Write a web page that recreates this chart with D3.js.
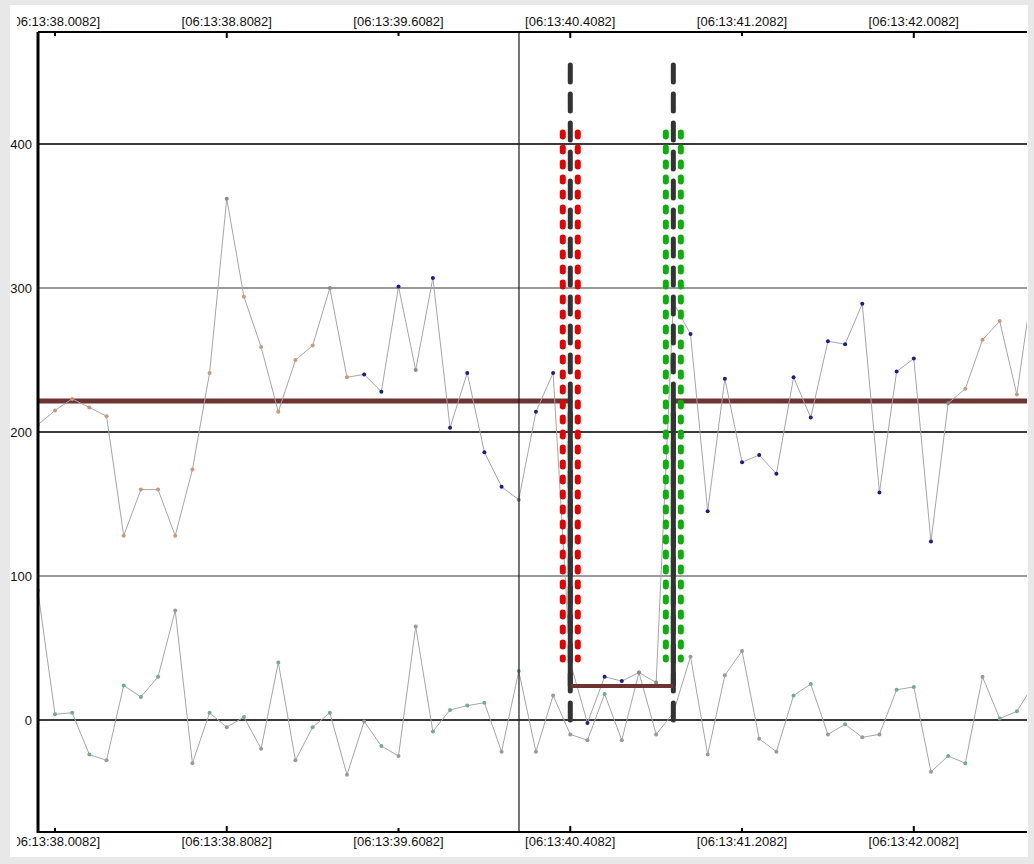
<!DOCTYPE html>
<html><head><meta charset="utf-8">
<script src="https://cdn.jsdelivr.net/npm/d3@7"></script>
<style>
html,body{margin:0;padding:0;background:#e8e8e8;}
svg{display:block;}
text{font-family:"Liberation Sans",Arial,sans-serif;font-size:13px;fill:#111;}
</style></head>
<body>
<script>
// ---- data ----
const sampleStart = 37.9282;   // seconds after 06:13:00
const sampleStep = 0.08;
const upperValues = [205,215,223,217,211,128,160,160,128,174,241,362,294,259,214,250,260,300,238,240,228,301,243,307,203,241,186,162,153,214,241,
  40,-2,30,27,33,26,290,
  268,145,237,179,184,171,238,210,263,261,289,158,242,251,124,220,230,264,277,226,310];
const upperState = ['o','o','o','o','o','o','o','o','o','o','o','g','o','o','o','o','o','g','o','b','b','b','g','b','b','b','b','b','g','b','b',
  'g','b','b','b','g','g','g',
  'b','b','b','b','b','b','b','b','b','b','b','b','b','b','b','g','o','o','o','o','o'];
const lowerValues = [90,4,5,-24,-28,24,16,30,76,-30,5,-5,2,-20,40,-28,-5,5,-38,-1,-18,-25,65,-8,7,10,12,-22,34,-22,17,
  -10,-14,18,-14,33,-10,5,
  44,-24,31,48,-13,-22,17,25,-10,-3,-12,-10,21,23,-36,-25,-30,30,1,6,25];
const lowerState = ['n','g','g','g','n','g','g','g','n','n','g','n','g','n','g','n','g','g','n','n','g','n','n','g','g','g','g','n','g','n','n',
  'n','n','g','n','n','n','n',
  'n','n','n','n','n','n','g','g','n','g','n','n','g','g','n','g','g','n','g','g','n'];
const yTicks = [0,100,200,300,400];
const xTickTimes = [38.0082,38.8082,39.6082,40.4082,41.2082,42.0082];
const xTickMajor = [false,true,false,true,false,true];
const meanBefore = 221.5, meanGap = 23.6, meanAfter = 221.5;
const gapStart = 40.4082, gapEnd = 40.8882;
const cursorTime = 40.1693;
const markerTop = 457, markerBottom = -1, zoneTop = 410, zoneBottom = 42;

// ---- layout ----
const W = 1034, H = 864;
const plot = {l:38, r:1027, t:32, b:832};
const svg = d3.select("body").append("svg").attr("width",W).attr("height",H);
svg.append("rect").attr("x",10).attr("y",5).attr("width",1018).attr("height",852).attr("fill","#ffffff");

const x = d3.scaleLinear().domain([38.0082 - 17/214.7, 38.0082 + 972/214.7]).range([plot.l, plot.r]);
const y = d3.scaleLinear().domain([(720-832)/1.44, (720-32)/1.44]).range([plot.b, plot.t]);

const defs = svg.append("defs");
defs.append("clipPath").attr("id","pc").append("rect").attr("x",plot.l).attr("y",plot.t).attr("width",plot.r-plot.l).attr("height",plot.b-plot.t);
defs.append("clipPath").attr("id","lc").append("rect").attr("x",17).attr("y",0).attr("width",1011).attr("height",H);

// grid
const g = svg.append("g");
g.selectAll("line.grid").data(yTicks).join("line")
  .attr("x1",plot.l).attr("x2",plot.r).attr("y1",d=>y(d)).attr("y2",d=>y(d))
  .attr("stroke",d=>(d/100)%2===0?"#3a3a3a":"#9a9a9a").attr("stroke-width",2);

// y axis labels
const yAxis = d3.axisLeft(y).tickValues(yTicks).tickSize(0).tickPadding(5).tickFormat(d3.format("d"));
svg.append("g").attr("transform",`translate(${plot.l-1},0)`).call(yAxis)
  .call(s=>s.select(".domain").remove())
  .call(s=>s.selectAll("text").attr("font-size",13).attr("font-family","Liberation Sans, Arial, sans-serif").attr("fill","#111"));

// mean lines (brown)
const pc = svg.append("g").attr("clip-path","url(#pc)");
pc.append("line").attr("x1",plot.l).attr("x2",x(gapStart)).attr("y1",y(meanBefore)).attr("y2",y(meanBefore))
  .attr("stroke","#6e3333").attr("stroke-width",5);
pc.append("line").attr("x1",x(gapEnd)).attr("x2",plot.r).attr("y1",y(meanAfter)).attr("y2",y(meanAfter))
  .attr("stroke","#6e3333").attr("stroke-width",5);

// series
const tOf = i => sampleStart + i*sampleStep;
const line = d3.line().x((d,i)=>x(tOf(i))).y(d=>y(d));
pc.append("path").datum(lowerValues).attr("d",line).attr("fill","none").attr("stroke","#a6a6a6").attr("stroke-width",1);
pc.append("path").datum(upperValues).attr("d",line).attr("fill","none").attr("stroke","#a6a6a6").attr("stroke-width",1);
const upCol = {o:"#c8997a", b:"#1c1c8a", g:"#8a8a8a"};
const loCol = {g:"#6fae86", n:"#9a9a9a"};
pc.selectAll("circle.lo").data(lowerValues).join("circle").attr("class","lo")
  .attr("cx",(d,i)=>x(tOf(i))).attr("cy",d=>y(d)).attr("r",2).attr("fill",(d,i)=>loCol[lowerState[i]]);
pc.selectAll("circle.up").data(upperValues).join("circle").attr("class","up")
  .attr("cx",(d,i)=>x(tOf(i))).attr("cy",d=>y(d)).attr("r",2).attr("fill",(d,i)=>upCol[upperState[i]]);

// cursor line
svg.append("line").attr("x1",x(cursorTime)).attr("x2",x(cursorTime)).attr("y1",plot.t).attr("y2",plot.b)
  .attr("stroke","#1a1a1a").attr("stroke-width",1.2);

// gap markers
const mk = svg.append("g");
[[gapStart,"#e80000"],[gapEnd,"#0bb00b"]].forEach(([t,c])=>{
  [-7.5,7.5].forEach(off=>{
    mk.append("line").attr("x1",x(t)+off).attr("x2",x(t)+off).attr("y1",y(zoneTop)+3).attr("y2",y(zoneBottom))
      .attr("stroke",c).attr("stroke-width",6).attr("stroke-linecap","round").attr("stroke-dasharray","4 11");
  });
});
[gapStart,gapEnd].forEach(t=>{
  mk.append("line").attr("x1",x(t)).attr("x2",x(t)).attr("y1",y(markerTop)+3).attr("y2",y(markerBottom))
    .attr("stroke","#333").attr("stroke-width",5).attr("stroke-linecap","round").attr("stroke-dasharray","17 12");
  mk.append("line").attr("x1",x(t)).attr("x2",x(t)).attr("y1",y(meanBefore)).attr("y2",y(meanGap))
    .attr("stroke","#333").attr("stroke-width",5);
});
mk.append("line").attr("x1",x(gapStart)).attr("x2",x(gapEnd)).attr("y1",y(meanGap)).attr("y2",y(meanGap))
  .attr("stroke","#6e3333").attr("stroke-width",4);

// frame
svg.append("line").attr("x1",plot.l).attr("x2",plot.l).attr("y1",plot.t).attr("y2",plot.b+1).attr("stroke","#000").attr("stroke-width",3);
svg.append("line").attr("x1",plot.l).attr("x2",plot.r).attr("y1",plot.t).attr("y2",plot.t).attr("stroke","#000").attr("stroke-width",2);
svg.append("line").attr("x1",plot.l).attr("x2",plot.r).attr("y1",plot.b).attr("y2",plot.b).attr("stroke","#000").attr("stroke-width",2);

// x axes
const fmt = t => `[06:13:${t.toFixed(4)}]`;
const xt = svg.append("g").attr("clip-path","url(#lc)");
xTickTimes.forEach((t,i)=>{
  const len = xTickMajor[i]?6:4;
  xt.append("line").attr("x1",x(t)).attr("x2",x(t)).attr("y1",plot.t).attr("y2",plot.t+len).attr("stroke","#000").attr("stroke-width",2);
  xt.append("line").attr("x1",x(t)).attr("x2",x(t)).attr("y1",plot.b).attr("y2",plot.b-len).attr("stroke","#000").attr("stroke-width",2);
  xt.append("text").attr("x",x(t)).attr("y",26).attr("text-anchor","middle").text(fmt(t));
  xt.append("text").attr("x",x(t)).attr("y",846).attr("text-anchor","middle").text(fmt(t));
});
</script>
</body></html>
